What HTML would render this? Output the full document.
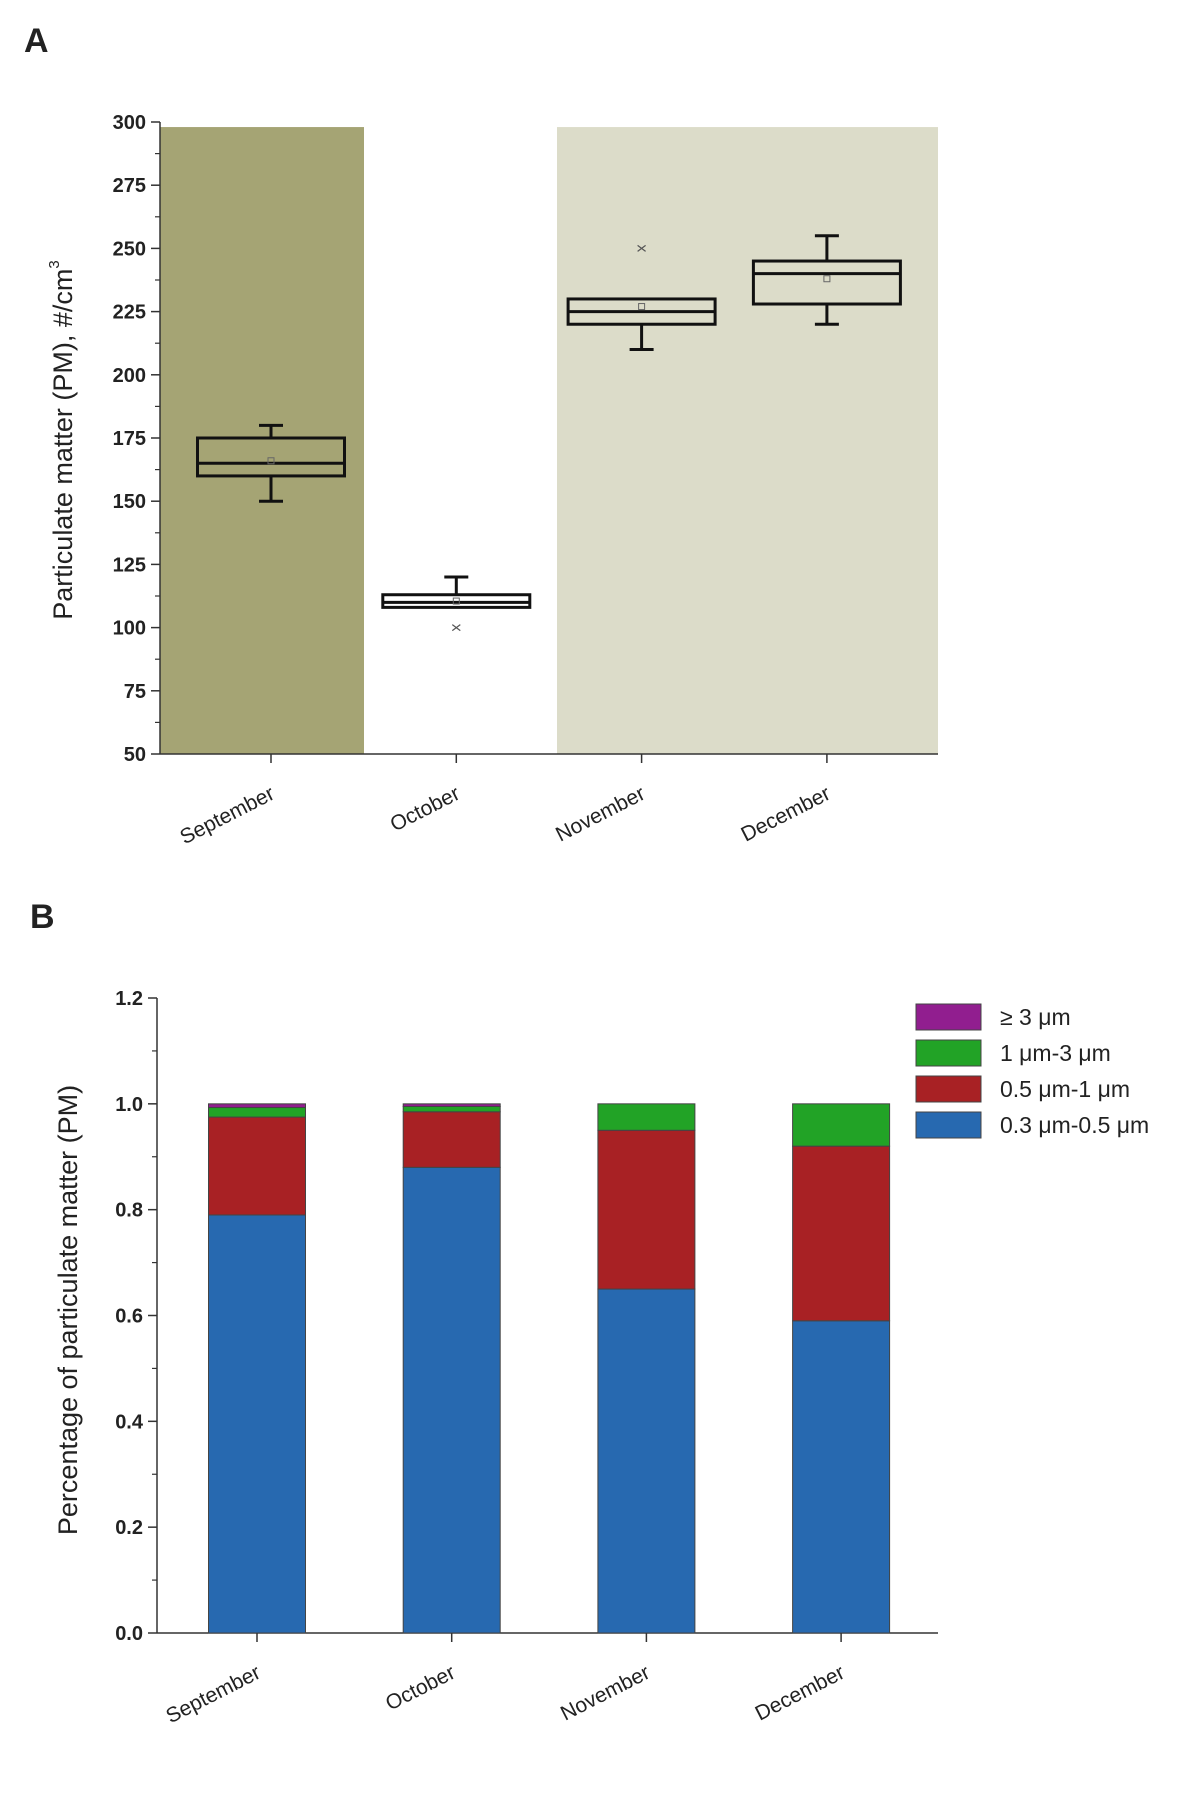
<!DOCTYPE html>
<html><head><meta charset="utf-8"><style>
body{margin:0;background:#fff;}
svg text{font-family:"Liberation Sans",Arial,sans-serif;fill:#222;}
</style></head><body>
<svg id="c" width="1200" height="1811" viewBox="0 0 1200 1811" xmlns="http://www.w3.org/2000/svg">
<text x="24" y="52" font-size="34" font-weight="bold">A</text>
<text x="30" y="928" font-size="34" font-weight="bold">B</text>
<g id="ga"></g>
<g id="gb"></g>
</svg>
<script>
const months = ["September","October","November","December"];
const whiskLow = [150,108,210,220];
const q1 = [160,108,220,228];
const medians = [165,110,225,240];
const q3 = [175,113,230,245];
const whiskHigh = [180,120,230,255];
const means = [166,110.5,227,238];
const outliers = [[],[100],[250],[]];
const aTicks = [50,75,100,125,150,175,200,225,250,275,300];

const pctBlue = [0.79,0.88,0.65,0.59];
const pctRed = [0.185,0.105,0.30,0.33];
const pctGreen = [0.018,0.01,0.05,0.08];
const pctPurple = [0.007,0.005,0,0];
const bTicks = ["0.0","0.2","0.4","0.6","0.8","1.0","1.2"];
const legendLabels = ["≥ 3 μm","1 μm-3 μm","0.5 μm-1 μm","0.3 μm-0.5 μm"];

const NS="http://www.w3.org/2000/svg";
function mk(p,t,a){const e=document.createElementNS(NS,t);for(const k in a)e.setAttribute(k,a[k]);p.appendChild(e);return e;}

// Panel A
const ga=document.getElementById('ga');
const ax0=160, ax1=938, ay0=754, ay1=122;
const yA=v=>ay0+(v-50)/(300-50)*(ay1-ay0);
const xA=i=>271+i*185.3;
let e;
e=mk(ga,'rect',{x:ax0,y:yA(298),width:364-ax0,height:ay0-yA(298),fill:'#a5a474'});


e=mk(ga,'rect',{x:557,y:yA(298),width:ax1-557,height:ay0-yA(298),fill:'#dcdcc9'});


mk(ga,'line',{x1:ax0,y1:ay1,x2:ax0,y2:ay0,stroke:'#333','stroke-width':1.5});
mk(ga,'line',{x1:ax0,y1:ay0,x2:ax1,y2:ay0,stroke:'#333','stroke-width':1.5});
aTicks.forEach(v=>{
 mk(ga,'line',{x1:ax0-9,y1:yA(v),x2:ax0,y2:yA(v),stroke:'#333','stroke-width':1.5});
 if(v<300) mk(ga,'line',{x1:ax0-5,y1:yA(v+12.5),x2:ax0,y2:yA(v+12.5),stroke:'#333','stroke-width':1.2});
 const t=mk(ga,'text',{x:ax0-14,y:yA(v)+7,'font-size':20,'font-weight':'bold','text-anchor':'end'});
 t.textContent=v;
 
 
});
months.forEach((m,i)=>{
 const cx=xA(i), w=147;
 const g=mk(ga,'g',{});
 
 
 mk(g,'line',{x1:cx,y1:yA(whiskLow[i]),x2:cx,y2:yA(q1[i]),stroke:'#111','stroke-width':3});
 mk(g,'line',{x1:cx,y1:yA(q3[i]),x2:cx,y2:yA(whiskHigh[i]),stroke:'#111','stroke-width':3});
 if(whiskLow[i]<q1[i]) mk(g,'line',{x1:cx-12,y1:yA(whiskLow[i]),x2:cx+12,y2:yA(whiskLow[i]),stroke:'#111','stroke-width':3});
 if(whiskHigh[i]>q3[i]) mk(g,'line',{x1:cx-12,y1:yA(whiskHigh[i]),x2:cx+12,y2:yA(whiskHigh[i]),stroke:'#111','stroke-width':3});
 mk(g,'rect',{x:cx-w/2,y:yA(q3[i]),width:w,height:yA(q1[i])-yA(q3[i]),fill:'none',stroke:'#111','stroke-width':3});
 mk(g,'line',{x1:cx-w/2,y1:yA(medians[i]),x2:cx+w/2,y2:yA(medians[i]),stroke:'#111','stroke-width':3});
 mk(g,'rect',{x:cx-3,y:yA(means[i])-3,width:6,height:6,fill:'none',stroke:'#666','stroke-width':1});
 outliers[i].forEach(o=>{const oy=yA(o);
  mk(g,'path',{d:`M${cx-4} ${oy-3}L${cx+4} ${oy+3}M${cx-4} ${oy+3}L${cx+4} ${oy-3}`,stroke:'#555','stroke-width':1.2});});
 mk(ga,'line',{x1:cx,y1:ay0,x2:cx,y2:ay0+9,stroke:'#333','stroke-width':1.5});
 const t=mk(ga,'text',{x:cx+5,y:ay0+44,'font-size':21,'text-anchor':'end',transform:`rotate(-27 ${cx+5} ${ay0+44})`});
 t.textContent=m;
 
 
});
e=mk(ga,'text',{x:0,y:0,'font-size':27,'text-anchor':'middle',transform:'translate(72 440) rotate(-90)'});
e.innerHTML='Particulate matter (PM), #/cm<tspan dy="-13" font-size="15">3</tspan>';



// Panel B
const gb=document.getElementById('gb');
const bx0=157, bx1=938, by0=1633, by1=998;
const yB=v=>by0-v/1.2*(by0-by1);
const xB=i=>257+i*194.7;
mk(gb,'line',{x1:bx0,y1:by1,x2:bx0,y2:by0,stroke:'#333','stroke-width':1.5});
mk(gb,'line',{x1:bx0,y1:by0,x2:bx1,y2:by0,stroke:'#333','stroke-width':1.5});
bTicks.forEach(s=>{const v=parseFloat(s);
 mk(gb,'line',{x1:bx0-9,y1:yB(v),x2:bx0,y2:yB(v),stroke:'#333','stroke-width':1.5});
 if(v<1.2) mk(gb,'line',{x1:bx0-5,y1:yB(v+0.1),x2:bx0,y2:yB(v+0.1),stroke:'#333','stroke-width':1.2});
 const t=mk(gb,'text',{x:bx0-14,y:yB(v)+7,'font-size':20,'font-weight':'bold','text-anchor':'end'});
 t.textContent=s;
 
 
});
const series=[[pctBlue,'#2769b0','blue'],[pctRed,'#a82124','red'],[pctGreen,'#22a326','green'],[pctPurple,'#911e8f','purple']];
months.forEach((m,i)=>{
 const cx=xB(i), w=97; let base=0;
 series.forEach(([arr,col,nm])=>{
  const v=arr[i];
  if(v>0){const r=mk(gb,'rect',{x:cx-w/2,y:yB(base+v),width:w,height:yB(base)-yB(base+v),fill:col,stroke:'#444','stroke-width':1});
   
   }
  base+=v;
 });
 mk(gb,'line',{x1:cx,y1:by0,x2:cx,y2:by0+9,stroke:'#333','stroke-width':1.5});
 const t=mk(gb,'text',{x:cx+5,y:by0+44,'font-size':21,'text-anchor':'end',transform:`rotate(-27 ${cx+5} ${by0+44})`});
 t.textContent=m;
 
 
});
const legCols=['#911e8f','#22a326','#a82124','#2769b0'];
legendLabels.forEach((l,k)=>{
 const y=1004+k*36;
 const r=mk(gb,'rect',{x:916,y:y,width:65,height:26,fill:legCols[k],stroke:'#444','stroke-width':1});
 
 
 const t=mk(gb,'text',{x:1000,y:y+21,'font-size':23});
 t.textContent=l;
 
 
});
e=mk(gb,'text',{x:0,y:0,'font-size':27,'text-anchor':'middle',transform:'translate(77 1310) rotate(-90)'});
e.textContent='Percentage of particulate matter (PM)';


</script>
</body></html>
